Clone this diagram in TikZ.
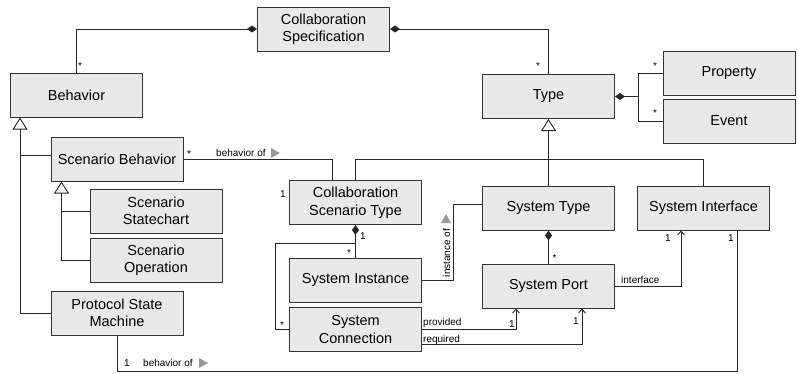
\documentclass[tikz,border=0pt]{standalone}
\usepackage{fontspec}
\setmainfont{Liberation Sans}
\usetikzlibrary{arrows.meta,calc}
\begin{document}
\begin{tikzpicture}[x=1pt,y=-1pt,
  cls/.style={draw=black!80, fill=gray!17, line width=1pt, minimum width=132pt,
    minimum height=44pt, inner sep=2pt, align=center,
    font=\fontsize{14.5}{17.5}\selectfont},
  conn/.style={draw=black!85, line width=0.9pt},
  comp/.style={conn, {Diamond[length=10pt,width=7pt]}-},
  gen/.style={conn, {Triangle[open,length=12pt,width=15pt,fill=white]}-},
  nav/.style={conn, -{Straight Barb[length=4pt,width=7pt]}},
  lbl/.style={inner sep=0pt, font=\fontsize{10}{12}\selectfont},
  dirtri/.style={fill=gray!80}
]
\useasboundingbox (0,0) rectangle (798,373);

% classes
\node[cls] (cspec)    at (323.5,29)  {Collaboration\\Specification};
\node[cls] (behavior) at (76.5,95)   {Behavior};
\node[cls] (scenb)    at (117,159)   {Scenario Behavior};
\node[cls] (stchart)  at (156,211)   {Scenario\\Statechart};
\node[cls] (sop)      at (156,260)   {Scenario\\Operation};
\node[cls] (psm)      at (117,313)   {Protocol State\\Machine};
\node[cls] (type)     at (548.5,96.5){Type};
\node[cls] (property) at (729,73)    {Property};
\node[cls] (event)    at (729,121)   {Event};
\node[cls] (cst)      at (355.5,202.5){Collaboration\\Scenario Type};
\node[cls] (sinst)    at (355.5,280) {System Instance};
\node[cls] (sconn)    at (355.5,329.5){System\\Connection};
\node[cls] (stype)    at (548.5,208) {System Type};
\node[cls] (siface)   at (703.5,208) {System Interface};
\node[cls] (sport)    at (548.5,286) {System Port};

% specification composition
\draw[comp] (cspec.west) -| (behavior.north);
\draw[comp] (cspec.east) -| (type.north);
\node[lbl] (m1) at (80,66) {*};
\node[lbl] (m2) at (538,66) {*};

% type features
\coordinate (tj) at ($(type.east)+(23,0)$);
\draw[comp] (type.east) -- (tj);
\draw[conn] (tj) |- (property.west);
\draw[conn] (tj) |- (event.west);
\node[lbl] (m3) at (655,66) {*};
\node[lbl] (m4) at (655,113) {*};

% type generalization
\coordinate (tbar) at (548.5,159);
\draw[gen] (type.south) -- (tbar) -- (stype.north);
\draw[conn] (cst.north) -- (cst.north |- tbar) -- (siface.north |- tbar) -- (siface.north);

% behavior generalization
\coordinate (bx) at ($(behavior.south west)+(10,0)$);
\draw[gen] (bx) |- (psm.west);
\draw[conn] ($(scenb.west)+(0,-4)$) -- ($(scenb.west -| bx)+(0,-4)$);

% scenario behavior generalization
\coordinate (sx) at ($(scenb.south west)+(11,0)$);
\draw[gen] (sx) |- (sop.west);
\draw[conn] (stchart.west) -- (stchart.west -| sx);

% scenario behavior -> collaboration scenario type
\draw[conn] (scenb.east) -| ($(cst.north)+(-23.5,0)$);
\node[lbl] (m5) at (189,154) {*};
\node[lbl, anchor=west] (bo1) at (216,153) {behavior of};
\fill[dirtri] (271,148) -- (271,158) -- (280,153) -- cycle;
\node[lbl] (m6) at (283,194) {1};

% collaboration scenario type contents
\coordinate (cj) at ($(cst.south)+(0,18)$);
\draw[comp] (cst.south) -- (cj) -- (sinst.north);
\draw[conn] (cj) -| ($(sconn.west)+(-14,0)$) -- (sconn.west);
\node[lbl] (m7) at (363,236) {1};
\node[lbl] (m8) at (349,253) {*};
\node[lbl] (m9) at (282,325) {*};

% instance of
\draw[conn] (sinst.east) -| (453,204) -- ($(stype.west)+(0,-4)$);
\node[lbl, rotate=90] (io) at (446.5,253) {instance of};
\fill[dirtri] (441,223) -- (451,223) -- (446,214) -- cycle;

% system type ports
\draw[comp] (stype.south) -- (sport.north);
\node[lbl] (m10) at (554.5,258) {*};

% port interface
\draw[nav] (sport.east) -| ($(siface.south)+(-22.5,0)$);
\node[lbl, anchor=west] (ifl) at (621,279.5) {interface};
\node[lbl] (m11) at (668,238) {1};

% connection ends
\draw[nav] ($(sconn.east)+(0,-0.5)$) -| ($(sport.south)+(-32.5,0)$);
\draw[nav] ($(sconn.east)+(0,14.5)$) -| ($(sport.south)+(33.5,0)$);
\node[lbl, anchor=west] (prov) at (423,322.5) {provided};
\node[lbl, anchor=west] (req) at (423,339.5) {required};
\node[lbl] (m12) at (512,324) {1};
\node[lbl] (m13) at (576,321) {1};

% protocol state machine -> system interface
\draw[conn] (psm.south) -- (psm.south |- 0,371) -| ($(siface.south)+(33.5,0)$);
\node[lbl] (m14) at (127,363) {1};
\node[lbl, anchor=west] (bo2) at (143,363) {behavior of};
\fill[dirtri] (199,358) -- (199,368) -- (208,363) -- cycle;
\node[lbl] (m15) at (731,238) {1};
\end{tikzpicture}
\end{document}
